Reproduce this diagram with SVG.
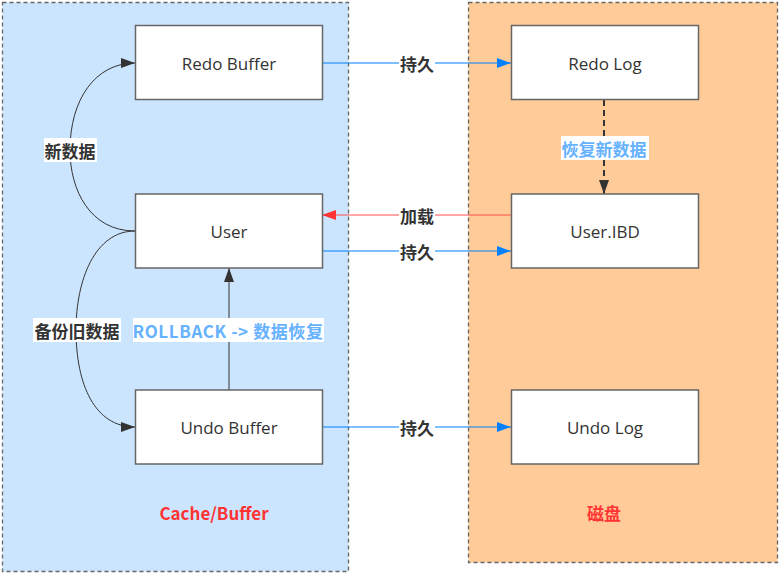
<svg xmlns="http://www.w3.org/2000/svg" width="780" height="574" viewBox="0 0 780 574">
<defs>
<style>
.cont{stroke:#666;stroke-width:1.3;stroke-dasharray:4 3}
.node rect{fill:#fff;stroke:#666;stroke-width:1.5}
.node text{font-family:"Open Sans","Noto Sans","Noto Sans CJK SC",sans-serif;font-size:17px;fill:#333;text-anchor:middle;dominant-baseline:central}
.lbl{font-family:"Noto Sans CJK SC","Noto Sans",sans-serif;font-size:17px;font-weight:bold;text-anchor:middle;dominant-baseline:central}
.dark{fill:#333}
.lb{fill:#66b2ff}
.red{fill:#ff3333}
.bg{fill:#fff}
</style>
<marker id="ab" viewBox="0 0 14 10" refX="14" refY="5" markerWidth="14" markerHeight="10" markerUnits="userSpaceOnUse" orient="auto"><path d="M0,0 L14,5 L0,10 z" fill="#007fff"/></marker>
<marker id="ar" viewBox="0 0 14 10" refX="14" refY="5" markerWidth="14" markerHeight="10" markerUnits="userSpaceOnUse" orient="auto"><path d="M0,0 L14,5 L0,10 z" fill="#ff3333"/></marker>
<marker id="ak" viewBox="0 0 14 10" refX="14" refY="5" markerWidth="14" markerHeight="10" markerUnits="userSpaceOnUse" orient="auto"><path d="M0,0 L14,5 L0,10 z" fill="#333"/></marker>
</defs>
<rect width="780" height="574" fill="#fff"/>
<g id="container-cache">
<rect class="cont" x="2.5" y="2.5" width="346" height="569" fill="#cce5ff"/>
<text class="lbl red" x="214" y="512">Cache/Buffer</text>
</g>
<g id="container-disk">
<rect class="cont" x="468.5" y="2.5" width="309" height="560" fill="#ffcc99"/>
<text class="lbl red" x="604" y="512">磁盘</text>
</g>
<g id="connectors" fill="none">
<path d="M322,63 H511" stroke="#007fff" stroke-width="1" marker-end="url(#ab)"/>
<path d="M511,215 H322" stroke="#ff4d4d" stroke-width="1" marker-end="url(#ar)"/>
<path d="M322,251 H511" stroke="#007fff" stroke-width="1" marker-end="url(#ab)"/>
<path d="M322,427 H511" stroke="#007fff" stroke-width="1" marker-end="url(#ab)"/>
<path d="M604,100 V194" stroke="#333" stroke-width="2" stroke-dasharray="6 4" marker-end="url(#ak)"/>
<path d="M229,390 V268" stroke="#333" stroke-width="1" marker-end="url(#ak)"/>
<path d="M135,231 C90,231 70,190 70,150 C70,100 95,63 135,63" stroke="#333" stroke-width="1" marker-end="url(#ak)"/>
<path d="M135,231 C95,231 76,280 76,330 C76,385 95,427 135,427" stroke="#333" stroke-width="1" marker-end="url(#ak)"/>
<rect class="bg" x="399" y="52" width="36" height="22"/>
<text class="lbl dark" x="417" y="63">持久</text>
<rect class="bg" x="399" y="204" width="36" height="22"/>
<text class="lbl dark" x="417" y="215">加载</text>
<rect class="bg" x="399" y="240" width="36" height="22"/>
<text class="lbl dark" x="417" y="251">持久</text>
<rect class="bg" x="399" y="416" width="36" height="22"/>
<text class="lbl dark" x="417" y="427">持久</text>
<rect class="bg" x="561" y="136" width="88" height="24"/>
<text class="lbl lb" x="604" y="148">恢复新数据</text>
<rect class="bg" x="44" y="138" width="53" height="24"/>
<text class="lbl dark" x="70" y="150">新数据</text>
<rect class="bg" x="33" y="318" width="88" height="24"/>
<text class="lbl dark" x="77" y="330">备份旧数据</text>
<rect class="bg" x="133" y="318" width="191" height="24"/>
<text class="lbl lb" x="228" y="330" letter-spacing="0.6">ROLLBACK -&gt; 数据恢复</text>
</g>
<g id="redo-buffer" class="node"><rect x="135.5" y="25.5" width="187" height="74"/><text x="229" y="63">Redo Buffer</text></g>
<g id="user" class="node"><rect x="135.5" y="194" width="187" height="74"/><text x="229" y="231">User</text></g>
<g id="undo-buffer" class="node"><rect x="135.5" y="390" width="187" height="74"/><text x="229" y="427">Undo Buffer</text></g>
<g id="redo-log" class="node"><rect x="511.5" y="25.5" width="187" height="74"/><text x="605" y="63">Redo Log</text></g>
<g id="user-ibd" class="node"><rect x="511.5" y="194" width="187" height="74"/><text x="605" y="231">User.IBD</text></g>
<g id="undo-log" class="node"><rect x="511.5" y="390" width="187" height="74"/><text x="605" y="427">Undo Log</text></g>
</svg>
